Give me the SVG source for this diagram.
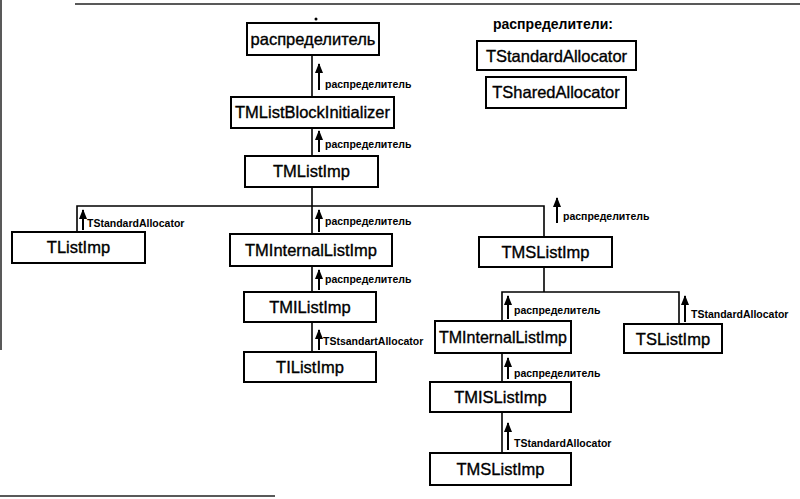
<svg xmlns="http://www.w3.org/2000/svg" width="800" height="499" viewBox="0 0 800 499">
<defs>
<marker id="ah" viewBox="0 0 10 8" refX="9" refY="4" markerWidth="10" markerHeight="8" markerUnits="userSpaceOnUse" orient="auto">
<path d="M0,0 L10,4 L0,8 Z" fill="#000"/>
</marker>
<style>
.box{fill:#fff;stroke:#000;stroke-width:2}
.nt{font-family:"Liberation Sans",Arial,sans-serif;font-size:16.5px;fill:#000;stroke:#000;stroke-width:0.35;text-anchor:middle}
.lb{font-family:"Liberation Sans",Arial,sans-serif;font-size:10.5px;font-weight:bold;fill:#000}
.ln{fill:none;stroke:#000;stroke-width:1.6}
.ar{fill:none;stroke:#000;stroke-width:2;marker-end:url(#ah)}
.hd{font-family:"Liberation Sans",Arial,sans-serif;font-size:14px;font-weight:bold;fill:#000}
.fr{stroke:#222;stroke-width:1.5;fill:none}
</style>
</defs>
<g id="frame">
<line class="fr" x1="75" y1="4" x2="800" y2="4"/>
<line class="fr" x1="1" y1="0" x2="1" y2="350"/>
<line class="fr" x1="0" y1="496" x2="275" y2="496"/>
<circle cx="316" cy="19" r="1.5" fill="#000"/>
</g>
<g id="connectors">
<line class="ln" x1="312" y1="55" x2="312" y2="97"/>
<line class="ln" x1="312" y1="128" x2="312" y2="156"/>
<line class="ln" x1="312" y1="187" x2="312" y2="234"/>
<polyline class="ln" points="77,232 77,206 544,206 544,237"/>
<line class="ln" x1="312" y1="266" x2="312" y2="292"/>
<line class="ln" x1="312" y1="322" x2="312" y2="352"/>
<line class="ln" x1="544" y1="267" x2="544" y2="292"/>
<polyline class="ln" points="502,321 502,292 679,292 679,324"/>
<line class="ln" x1="502" y1="353" x2="502" y2="382"/>
<line class="ln" x1="502" y1="412" x2="502" y2="453"/>
<line class="ar" x1="319" y1="90" x2="319" y2="64"/>
<line class="ar" x1="319" y1="152" x2="319" y2="131"/>
<line class="ar" x1="83" y1="230" x2="83" y2="210"/>
<line class="ar" x1="319" y1="232" x2="319" y2="210"/>
<line class="ar" x1="319" y1="290" x2="319" y2="270"/>
<line class="ar" x1="319" y1="350" x2="319" y2="330"/>
<line class="ar" x1="557" y1="223" x2="557" y2="198"/>
<line class="ar" x1="508" y1="319" x2="508" y2="296"/>
<line class="ar" x1="685" y1="322" x2="685" y2="296"/>
<line class="ar" x1="508" y1="379" x2="508" y2="358"/>
<line class="ar" x1="508" y1="450" x2="508" y2="423"/>
<text class="lb" x="325" y="88">распределитель</text>
<text class="lb" x="325" y="148">распределитель</text>
<text class="lb" x="87" y="227">TStandardAllocator</text>
<text class="lb" x="325" y="225">распределитель</text>
<text class="lb" x="325" y="283">распределитель</text>
<text class="lb" x="323" y="345">TStsandartAllocator</text>
<text class="lb" x="563" y="220">распределитель</text>
<text class="lb" x="514" y="314">распределитель</text>
<text class="lb" x="691" y="318">TStandardAllocator</text>
<text class="lb" x="514" y="377">распределитель</text>
<text class="lb" x="514" y="447">TStandardAllocator</text>
</g>
<g id="n-alloc"><rect class="box" x="247" y="23" width="132" height="32"/><text class="nt" x="313" y="45">распределитель</text></g>
<g id="n-blockinit"><rect class="box" x="231" y="97" width="163" height="31"/><text class="nt" x="312.5" y="118">TMListBlockInitializer</text></g>
<g id="n-tmlistimp"><rect class="box" x="245" y="156" width="133" height="31"/><text class="nt" x="311.5" y="177">TMListImp</text></g>
<g id="n-tlistimp"><rect class="box" x="12" y="232" width="133" height="31"/><text class="nt" x="78.5" y="253">TListImp</text></g>
<g id="n-tminternal1"><rect class="box" x="230" y="234" width="162" height="32"/><text class="nt" x="311" y="256">TMInternalListImp</text></g>
<g id="n-tmilistimp"><rect class="box" x="244" y="292" width="132" height="30"/><text class="nt" x="310" y="313">TMIListImp</text></g>
<g id="n-tilistimp"><rect class="box" x="244" y="352" width="132" height="30"/><text class="nt" x="310" y="373">TIListImp</text></g>
<g id="n-tmslistimp1"><rect class="box" x="479" y="237" width="133" height="30"/><text class="nt" x="545.5" y="258">TMSListImp</text></g>
<g id="n-tminternal2"><rect class="box" x="435" y="321" width="136" height="32"/><text class="nt" x="503" y="343" textLength="128" lengthAdjust="spacingAndGlyphs">TMInternalListImp</text></g>
<g id="n-tslistimp"><rect class="box" x="624" y="324" width="98" height="29"/><text class="nt" x="673" y="345">TSListImp</text></g>
<g id="n-tmislistimp"><rect class="box" x="430" y="382" width="141" height="30"/><text class="nt" x="500.5" y="403">TMISListImp</text></g>
<g id="n-tmslistimp2"><rect class="box" x="430" y="453" width="141" height="32"/><text class="nt" x="500.5" y="475">TMSListImp</text></g>
<g id="legend">
<text class="hd" x="493" y="29">распределители:</text>
<g id="n-stdalloc"><rect class="box" x="477" y="41" width="159" height="29"/><text class="nt" x="556.5" y="62">TStandardAllocator</text></g>
<g id="n-sharedalloc"><rect class="box" x="486" y="77" width="140" height="31"/><text class="nt" x="556" y="98">TSharedAllocator</text></g>
</g>
</svg>
